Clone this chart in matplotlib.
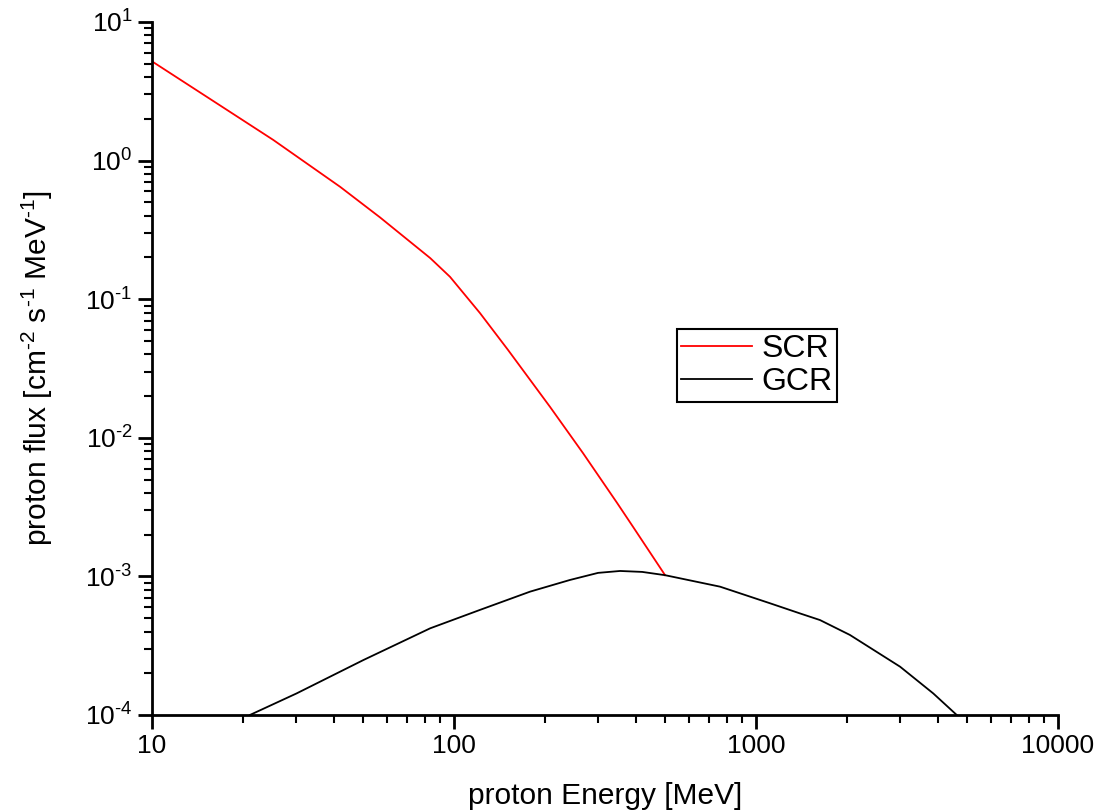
import matplotlib
matplotlib.use("Agg")
import matplotlib.pyplot as plt
from matplotlib.ticker import LogLocator, NullFormatter, FixedLocator, FixedFormatter

plt.rcParams['font.family'] = ['Liberation Sans', 'DejaVu Sans']
plt.rcParams['mathtext.fontset'] = 'custom'
plt.rcParams['mathtext.rm'] = 'Liberation Sans'
plt.rcParams['mathtext.it'] = 'Liberation Sans:italic'
plt.rcParams['mathtext.default'] = 'regular'

# SCR spectrum (energy MeV, flux)
scr_E = [10, 15.2, 25.2, 42.0, 56.9, 83.4, 97.0, 121.9, 151.0, 208.0, 267.3, 346.7, 392.0, 500.0]
scr_F = [5.2, 2.88, 1.41, 0.646, 0.389, 0.198, 0.145, 0.0794, 0.0430, 0.0167, 0.00776, 0.00339, 0.00227, 0.00102]

# GCR spectrum (energy MeV, flux)
gcr_E = [21.1, 30.1, 50.1, 83.4, 121.9, 178.6, 242.0, 300.0, 354.8, 420.0, 500.0, 760.0,
         1112.0, 1400.0, 1629.0, 2046.0, 3000.0, 3864.0, 4620.0]
gcr_F = [1.0e-4, 1.43e-4, 2.49e-4, 4.22e-4, 5.73e-4, 7.76e-4, 9.42e-4, 1.06e-3, 1.094e-3, 1.077e-3, 1.02e-3, 8.43e-4,
         6.4e-4, 5.4e-4, 4.84e-4, 3.78e-4, 2.23e-4, 1.43e-4, 1.0e-4]

fig = plt.figure(figsize=(10.99, 8.11), dpi=100)
ax = fig.add_axes([0.1383, 0.1184, 0.8244, 0.8545])

ax.plot(scr_E, scr_F, color='#ff0000', lw=1.3, label='SCR')
ax.plot(gcr_E, gcr_F, color='black', lw=1.3, label='GCR')

ax.set_xscale('log')
ax.set_yscale('log')
ax.set_xlim(10, 10000)
ax.set_ylim(1e-4, 10)

for s in ['top', 'right']:
    ax.spines[s].set_visible(False)
for s in ['left', 'bottom']:
    ax.spines[s].set_linewidth(2)

ax.xaxis.set_major_locator(FixedLocator([10, 100, 1000, 10000]))
ax.xaxis.set_major_formatter(FixedFormatter(['10', '100', '1000', '10000']))
ax.xaxis.set_minor_locator(LogLocator(base=10, subs=range(2, 10), numticks=20))
ax.xaxis.set_minor_formatter(NullFormatter())

yt = [1e-4, 1e-3, 1e-2, 1e-1, 1, 10]
ax.yaxis.set_major_locator(FixedLocator(yt))
ax.yaxis.set_major_formatter(FixedFormatter([r'$10^{\text{-4}}$', r'$10^{\text{-3}}$', r'$10^{\text{-2}}$',
                                             r'$10^{\text{-1}}$', r'$10^{0}$', r'$10^{1}$']))
ax.yaxis.set_minor_locator(LogLocator(base=10, subs=range(2, 10), numticks=20))
ax.yaxis.set_minor_formatter(NullFormatter())

ax.tick_params(which='major', direction='out', length=10, width=2, labelsize=19, pad=4)
ax.tick_params(which='minor', direction='out', length=6, width=1.5)

ax.set_xlabel('proton Energy [MeV]', fontsize=21.5, labelpad=17)
ax.set_ylabel(r'proton flux [cm$^{\text{-2}}$ s$^{\text{-1}}$ MeV$^{\text{-1}}$]', fontsize=21.5, labelpad=22)

leg = ax.legend(loc='upper left', bbox_to_anchor=(0.579, 0.557), fontsize=23,
                frameon=True, fancybox=False, handlelength=2.2, handletextpad=0.3,
                borderpad=0.15, labelspacing=0.1, borderaxespad=0)
leg.get_frame().set_edgecolor('black')
leg.get_frame().set_linewidth(1.5)
leg.get_frame().set_alpha(1)

fig.savefig('out.png', dpi=100)
